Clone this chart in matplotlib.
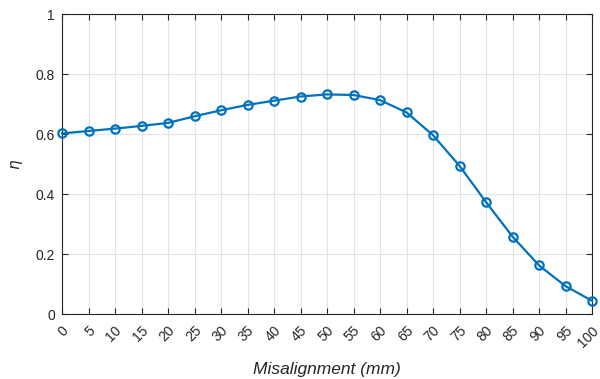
import matplotlib
matplotlib.use("Agg")
import matplotlib.pyplot as plt
import matplotlib.transforms as mtransforms

misalignment = [0, 5, 10, 15, 20, 25, 30, 35, 40, 45, 50, 55, 60, 65, 70, 75, 80, 85, 90, 95, 100]
eta = [0.602, 0.610, 0.618, 0.627, 0.637, 0.659, 0.679, 0.697, 0.711, 0.725, 0.732, 0.730,
       0.713, 0.672, 0.596, 0.494, 0.373, 0.258, 0.162, 0.093, 0.044]
yticks = [0, 0.2, 0.4, 0.6, 0.8, 1]
ytick_labels = ["0", "0.2", "0.4", "0.6", "0.8", "1"]

plt.rcParams['font.family'] = ['Liberation Sans', 'DejaVu Sans']
fig = plt.figure(figsize=(6.0, 3.79), dpi=100)
ax = fig.add_axes([62/600, 65/379, 530/600, 300/379])

ax.plot(misalignment, eta, color='#0072BD', lw=1.6, marker='o', markersize=6,
        markerfacecolor='none', markeredgewidth=1.6, clip_on=False, zorder=3)

ax.set_xlim(0, 100)
ax.set_ylim(0, 1)
ax.set_xticks(misalignment)
ax.set_yticks(yticks)
ax.set_yticklabels(ytick_labels)
ax.grid(True, color='#e3e3e3', lw=0.8)
ax.set_axisbelow(True)
for s in ax.spines.values():
    s.set_color('#262626')
    s.set_linewidth(0.8)
ax.tick_params(direction='in', length=4, width=0.8, colors='#262626', labelsize=10,
               top=True, right=True)
ax.tick_params(axis='y', pad=5)
ax.tick_params(axis='x', pad=10.5)
ax.set_xticklabels([str(v) for v in misalignment], rotation=45, ha='right', va='center',
                   rotation_mode='anchor')
offset = mtransforms.ScaledTranslation(4.5/100, 0, fig.dpi_scale_trans)
for lbl in ax.get_xticklabels():
    lbl.set_transform(lbl.get_transform() + offset)
ax.set_xlabel('Misalignment (mm)', fontsize=12.5, style='italic', color='#262626', labelpad=9)
ax.set_ylabel(r'$\eta$', fontsize=11, color='#262626', labelpad=8)

fig.savefig('out.png', dpi=100)
